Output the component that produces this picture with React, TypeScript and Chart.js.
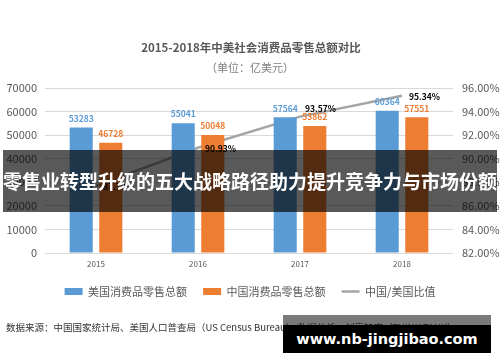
import React, { useEffect, useRef } from "react";
import { Chart, registerables } from "chart.js";

Chart.register(...registerables);

const years = ["2015", "2016", "2017", "2018"];
const usRetail = [53283, 55041, 57564, 60364];
const cnRetail = [46728, 50048, 53862, 57551];
const cnUsRatio = [87.7, 90.93, 93.57, 95.34];
const seriesNames = ["美国消费品零售总额", "中国消费品零售总额", "中国/美国比值"];
const leftAxis = { min: 0, max: 70000, step: 10000 };
const rightAxis = { min: 82, max: 96, step: 2 };
const titleText = "2015-2018年中美社会消费品零售总额对比";
const subtitleText = "（单位：亿美元）";
const sourceText = "数据来源：中国国家统计局、美国人口普查局（US Census Bureau） 数据分析：创享智库（THINK TANK）";
const bannerText = "零售业转型升级的五大战略路径助力提升竞争力与市场份额";
const watermarkText = "www.nb-jingjibao.com";

const FONT = '"Noto Sans CJK SC", "Noto Sans", sans-serif';
const BLUE = "#5b9bd5";
const ORANGE = "#ed7d31";
const GRAY = "#a5a5a5";
const TEXT = "#595959";
const ratioLabelOffsets = [
  [7, 1],
  [7, 1],
  [5, -8],
  [7, 1],
];

const decorPlugin = {
  id: "decor",
  afterDatasetsDraw(chart: any) {
    const ctx = chart.ctx;
    ctx.save();
    ctx.textBaseline = "middle";
    ctx.textAlign = "center";
    ctx.font = `bold 8.5px ${FONT}`;
    [0, 1].forEach((di) => {
      const meta = chart.getDatasetMeta(di);
      ctx.fillStyle = di === 0 ? BLUE : ORANGE;
      meta.data.forEach((el: any, i: number) => {
        ctx.fillText(String(chart.data.datasets[di].data[i]), el.x, el.y - 9);
      });
    });
    const lm = chart.getDatasetMeta(2);
    ctx.textAlign = "left";
    ctx.fillStyle = "#000";
    lm.data.forEach((el: any, i: number) => {
      const v = chart.data.datasets[2].data[i] as number;
      const [dx, dy] = ratioLabelOffsets[i];
      ctx.fillText(`${v.toFixed(2)}%`, el.x + dx, el.y + dy);
    });
    ctx.restore();
  },
  afterDraw(chart: any) {
    const ctx = chart.ctx;
    ctx.save();
    ctx.textBaseline = "middle";
    ctx.textAlign = "center";
    ctx.fillStyle = TEXT;
    ctx.font = `bold 11.5px ${FONT}`;
    ctx.fillText(titleText, 251, 48);
    ctx.fillStyle = "#7f7f7f";
    ctx.font = `11px ${FONT}`;
    ctx.fillText(subtitleText, 250, 68);
    ctx.textAlign = "left";
    ctx.fillStyle = "#333";
    ctx.font = `9.5px ${FONT}`;
    ctx.fillText(sourceText, 6, 327);
    ctx.restore();
  },
};

export default function App() {
  const ref = useRef<HTMLCanvasElement>(null);
  useEffect(() => {
    if (!ref.current) return;
    const chart = new Chart(ref.current, {
      type: "bar",
      data: {
        labels: years,
        datasets: [
          {
            type: "bar",
            label: seriesNames[0],
            data: usRetail,
            backgroundColor: BLUE,
            yAxisID: "y",
            categoryPercentage: 0.58,
            barPercentage: 0.78,
            pointStyle: "rect",
          } as any,
          {
            type: "bar",
            label: seriesNames[1],
            data: cnRetail,
            backgroundColor: ORANGE,
            yAxisID: "y",
            categoryPercentage: 0.58,
            barPercentage: 0.78,
            pointStyle: "rect",
          } as any,
          {
            type: "line",
            label: seriesNames[2],
            data: cnUsRatio,
            borderColor: GRAY,
            backgroundColor: GRAY,
            borderWidth: 2.5,
            pointRadius: 0,
            yAxisID: "y1",
            pointStyle: "line",
          } as any,
        ],
      },
      options: {
        responsive: false,
        animation: false,
        layout: { padding: { top: 88, bottom: 55, left: 0, right: 0 } },
        plugins: {
          legend: {
            position: "bottom",
            labels: {
              usePointStyle: true,
              pointStyleWidth: 18,
              boxHeight: 7,
              padding: 16,
              color: TEXT,
              font: { family: FONT, size: 11 },
              sort: (a: any, b: any) => a.datasetIndex - b.datasetIndex,
            },
          },
          tooltip: { enabled: false },
          title: { display: false },
        },
        scales: {
          x: {
            grid: { display: false, drawTicks: false },
            border: { display: false },
            ticks: { color: TEXT, font: { family: FONT, size: 8 }, padding: 6 },
            afterFit: (s: any) => {
              s.height = 17;
            },
          },
          y: {
            position: "left",
            min: leftAxis.min,
            max: leftAxis.max,
            ticks: {
              stepSize: leftAxis.step,
              color: TEXT,
              font: { family: FONT, size: 11 },
              padding: 8,
              callback: (v: any) => String(v),
            },
            grid: { color: "#d9d9d9", drawTicks: false },
            border: { display: false },
            afterFit: (s: any) => {
              s.width = 45;
            },
          },
          y1: {
            position: "right",
            min: rightAxis.min,
            max: rightAxis.max,
            ticks: {
              stepSize: rightAxis.step,
              color: TEXT,
              font: { family: FONT, size: 11 },
              padding: 9,
              callback: (v: any) => `${Number(v).toFixed(2)}%`,
            },
            grid: { display: false, drawTicks: false },
            border: { display: false },
            afterFit: (s: any) => {
              s.width = 47;
            },
          },
        },
      },
      plugins: [decorPlugin],
    } as any);
    return () => chart.destroy();
  }, []);

  return (
    <div style={{ position: "absolute", left: 0, top: 0, width: 500, height: 362, background: "#fff", overflow: "hidden" }}>
      <canvas ref={ref} width={500} height={362} style={{ display: "block" }} />
      <div
        style={{
          position: "absolute",
          left: 3,
          top: 150,
          width: 494,
          height: 62,
          background: "rgba(0,0,0,0.65)",
          color: "#fff",
          fontFamily: FONT,
          fontWeight: 700,
          fontSize: 19,
          lineHeight: "62px",
          textAlign: "center",
          whiteSpace: "nowrap",
          letterSpacing: 0,
        }}
      >
        {bannerText}
      </div>
      <div style={{ position: "absolute", left: 283, top: 315, width: 208, height: 10, background: "rgba(0,0,0,0.52)" }} />
      <div
        style={{
          position: "absolute",
          left: 283,
          top: 325,
          width: 208,
          height: 28,
          background: "#000",
          color: "#fff",
          fontFamily: '"DejaVu Sans", sans-serif',
          fontWeight: 700,
          fontSize: 14.5,
          lineHeight: "28px",
          textAlign: "center",
          whiteSpace: "nowrap",
        }}
      >
        {watermarkText}
      </div>
    </div>
  );
}
